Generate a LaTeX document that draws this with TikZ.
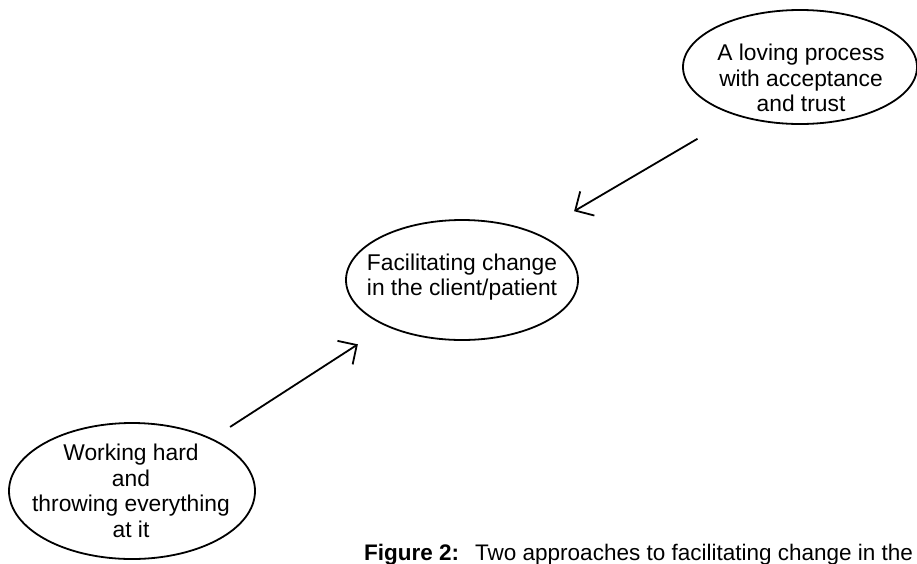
\documentclass[tikz,border=0pt]{standalone}
\usepackage{fontspec}
\setmainfont{Liberation Sans}
\usetikzlibrary{arrows.meta}

\begin{document}
\begin{tikzpicture}[
      x=1pt, y=-1pt,
      txt/.style={align=center, inner sep=0pt,
                  font=\fontsize{22.8}{25.5}\selectfont},
      ring/.style={draw=black, line width=1.8pt},
      arr/.style={-{Straight Barb[length=14pt,width=28pt,line width=1.8pt]},
                  line width=1.8pt},
      captext/.style={anchor=base west, inner sep=0pt,
                  font=\fontsize{22.5}{26}\selectfont}
    ]
    \useasboundingbox (0,0) rectangle (917,563);
    % the three ellipses
    \node[txt] (loving) at (801,78) {A loving process\\with acceptance\\and trust};
    \node[txt] (facil) at (462,277) {Facilitating change\\in the client/patient};
    \node[txt] (work) at (131,491) {Working hard\\and\\throwing everything\\at it};
    \draw[ring] (800,67) ellipse [x radius=117pt, y radius=57pt];
    \draw[ring] (462,280) ellipse [x radius=116pt, y radius=60pt];
    \draw[ring] (132,491) ellipse [x radius=123pt, y radius=68pt];
    % arrows
    \draw[arr, shorten <=120pt, shorten >=130pt] (loving.center) -- (facil.center);
    \draw[arr, shorten <=118pt, shorten >=124pt] (work.center) -- (facil.center);
    % caption
    \node[captext] (caption) at (364,560) {\textbf{Figure 2:}\hspace{16pt}Two approaches to facilitating change in the};
  \end{tikzpicture}
\end{document}
